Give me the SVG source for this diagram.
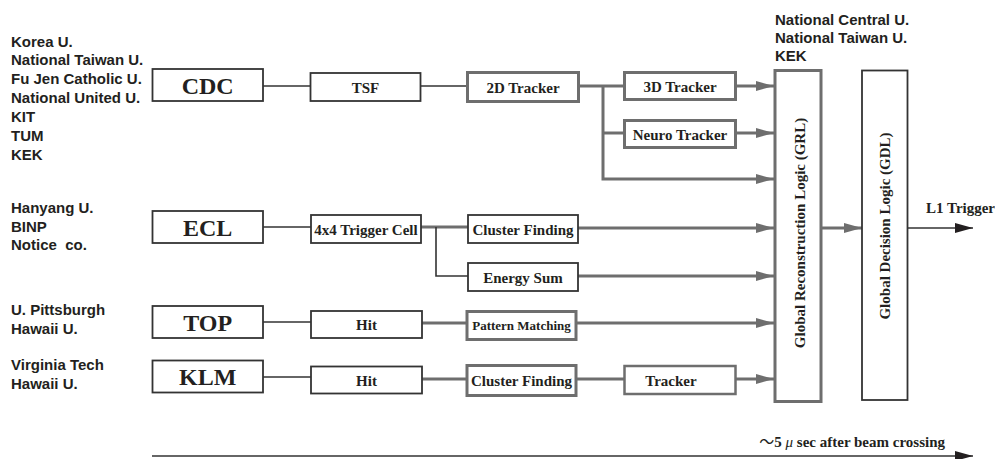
<svg xmlns="http://www.w3.org/2000/svg" width="995" height="459" viewBox="0 0 995 459">
<style>
.org{font-family:"Liberation Sans",Arial,sans-serif;font-weight:bold;font-size:15px;fill:#231f20}
.big{font-family:"Liberation Serif","Times New Roman",serif;font-weight:bold;font-size:24px;fill:#231f20;text-anchor:middle}
.lbl{font-family:"Liberation Serif","Times New Roman",serif;font-weight:bold;font-size:15px;fill:#231f20;text-anchor:middle}
.thin{fill:#fff;stroke:#333;stroke-width:1.8}
.thick{fill:#fff;stroke:#6e6e6e;stroke-width:3}
.lt{fill:none;stroke:#333;stroke-width:1.6}
.lg{fill:none;stroke:#6e6e6e;stroke-width:3}
</style>
<defs>
<marker id="ag" markerUnits="userSpaceOnUse" markerWidth="18" markerHeight="10" refX="18" refY="5" orient="auto">
<path d="M0,0 L18,5 L0,10 Z" fill="#6e6e6e"/>
</marker>
<marker id="ab" markerUnits="userSpaceOnUse" markerWidth="18" markerHeight="10" refX="18" refY="5" orient="auto">
<path d="M0,0 L18,5 L0,10 Z" fill="#231f20"/>
</marker>
</defs>
<rect width="995" height="459" fill="#fff"/>

<g id="orgs">
<text class="org" x="11" y="46.5">Korea U.</text>
<text class="org" x="11" y="65.3">National Taiwan U.</text>
<text class="org" x="11" y="84.1">Fu Jen Catholic U.</text>
<text class="org" x="11" y="103">National United U.</text>
<text class="org" x="11" y="121.8">KIT</text>
<text class="org" x="11" y="140.6">TUM</text>
<text class="org" x="11" y="159.5">KEK</text>
<text class="org" x="11" y="212.7">Hanyang U.</text>
<text class="org" x="11" y="231.5">BINP</text>
<text class="org" x="11" y="250.3">Notice&#160; co.</text>
<text class="org" x="11" y="315">U. Pittsburgh</text>
<text class="org" x="11" y="333.5">Hawaii U.</text>
<text class="org" x="11" y="370">Virginia Tech</text>
<text class="org" x="11" y="388.5">Hawaii U.</text>
<text class="org" x="775" y="24.5">National Central U.</text>
<text class="org" x="775" y="42.5">National Taiwan U.</text>
<text class="org" x="775" y="60.5">KEK</text>
</g>

<g id="connectors">
<line class="lt" x1="263" y1="86" x2="310" y2="86"/>
<line class="lt" x1="420" y1="86" x2="467" y2="86"/>
<line class="lg" x1="579" y1="86" x2="624" y2="86"/>
<polyline class="lg" points="603,86 603,179 774,179" marker-end="url(#ag)"/>
<line class="lg" x1="603" y1="133" x2="624" y2="133"/>
<line class="lg" x1="736" y1="86" x2="774" y2="86" marker-end="url(#ag)"/>
<line class="lg" x1="736" y1="133" x2="774" y2="133" marker-end="url(#ag)"/>

<line class="lt" x1="263" y1="227" x2="311" y2="227"/>
<line class="lg" x1="421" y1="227" x2="468" y2="227"/>
<polyline class="lt" points="436,227 436,276 468,276"/>
<line class="lg" x1="578" y1="228" x2="774" y2="228" marker-end="url(#ag)"/>
<line class="lg" x1="578" y1="276" x2="774" y2="276" marker-end="url(#ag)"/>

<line class="lt" x1="263" y1="322" x2="311" y2="322"/>
<line class="lg" x1="422" y1="323" x2="467" y2="323"/>
<line class="lg" x1="576" y1="323" x2="774" y2="323" marker-end="url(#ag)"/>

<line class="lt" x1="263" y1="377" x2="311" y2="377"/>
<line class="lg" x1="422" y1="379" x2="467" y2="379"/>
<line class="lg" x1="576" y1="379" x2="624" y2="379"/>
<line class="lg" x1="736" y1="379" x2="774" y2="379" marker-end="url(#ag)"/>

<line class="lg" x1="822" y1="228" x2="862" y2="228" marker-end="url(#ag)"/>
<line class="lt" x1="908" y1="228" x2="973" y2="228" marker-end="url(#ab)"/>
<line class="lt" x1="152" y1="456" x2="973" y2="456" marker-end="url(#ab)"/>
</g>

<g id="cdc"><rect class="thin" x="152.5" y="69" width="110.5" height="32"/><text class="big" x="207.7" y="93.5">CDC</text></g>
<g id="tsf"><rect class="thin" x="310.5" y="73" width="110" height="28"/><text class="lbl" x="365.5" y="92.5">TSF</text></g>
<g id="tracker2d"><rect class="thick" x="467.5" y="72.5" width="111" height="29"/><text class="lbl" x="523" y="92.5">2D Tracker</text></g>
<g id="tracker3d"><rect class="thick" x="624.5" y="72.5" width="111" height="27"/><text class="lbl" x="680" y="91.5">3D Tracker</text></g>
<g id="neuro"><rect class="thick" x="624.5" y="120.5" width="111" height="27"/><text class="lbl" x="680" y="139.5">Neuro Tracker</text></g>

<g id="ecl"><rect class="thin" x="152.5" y="211" width="110.5" height="32"/><text class="big" x="207.7" y="235.5">ECL</text></g>
<g id="cell"><rect class="thin" x="311" y="215" width="110" height="28"/><text class="lbl" x="366" y="234.5">4x4 Trigger Cell</text></g>
<g id="cluster-ecl"><rect class="thin" x="468" y="215" width="110" height="28"/><text class="lbl" x="523" y="234.5">Cluster Finding</text></g>
<g id="energy"><rect class="thin" x="468" y="263" width="110" height="28"/><text class="lbl" x="523" y="282.5">Energy Sum</text></g>

<g id="top"><rect class="thin" x="152.5" y="306" width="110.5" height="32"/><text class="big" x="207.7" y="330.5">TOP</text></g>
<g id="hit-top"><rect class="thin" x="311" y="311" width="111" height="27"/><text class="lbl" x="366.5" y="330">Hit</text></g>
<g id="pattern"><rect class="thick" x="467" y="311.5" width="109" height="28"/><text class="lbl" x="521.5" y="330" style="font-size:13px">Pattern Matching</text></g>

<g id="klm"><rect class="thin" x="152.5" y="360.5" width="110.5" height="32"/><text class="big" x="207.7" y="385">KLM</text></g>
<g id="hit-klm"><rect class="thin" x="311" y="366.5" width="111" height="27"/><text class="lbl" x="366.5" y="385.5">Hit</text></g>
<g id="cluster-klm"><rect class="thick" x="467" y="365.5" width="109" height="30"/><text class="lbl" x="521.5" y="385.5">Cluster Finding</text></g>
<g id="tracker-klm"><rect class="thick" x="624.5" y="366" width="111" height="28" style="stroke-width:2.5"/><text class="lbl" x="671" y="385.5">Tracker</text></g>

<g id="grl"><rect class="thick" x="775" y="70.5" width="46" height="331"/><text class="lbl" transform="translate(804.5,233) rotate(-90)">Global Reconstruction Logic (GRL)</text></g>
<g id="gdl"><rect class="thin" x="862" y="70.5" width="45.5" height="329.5"/><text class="lbl" transform="translate(890,226) rotate(-90)">Global Decision Logic (GDL)</text></g>

<text class="lbl" x="926" y="213" style="text-anchor:start">L1 Trigger</text>
<text class="lbl" x="945" y="447" style="text-anchor:end"><tspan style="font-family:'Noto Sans CJK JP',sans-serif;font-weight:normal">～</tspan>5 <tspan style="font-style:italic;font-weight:normal">μ</tspan> sec after beam crossing</text>
</svg>
